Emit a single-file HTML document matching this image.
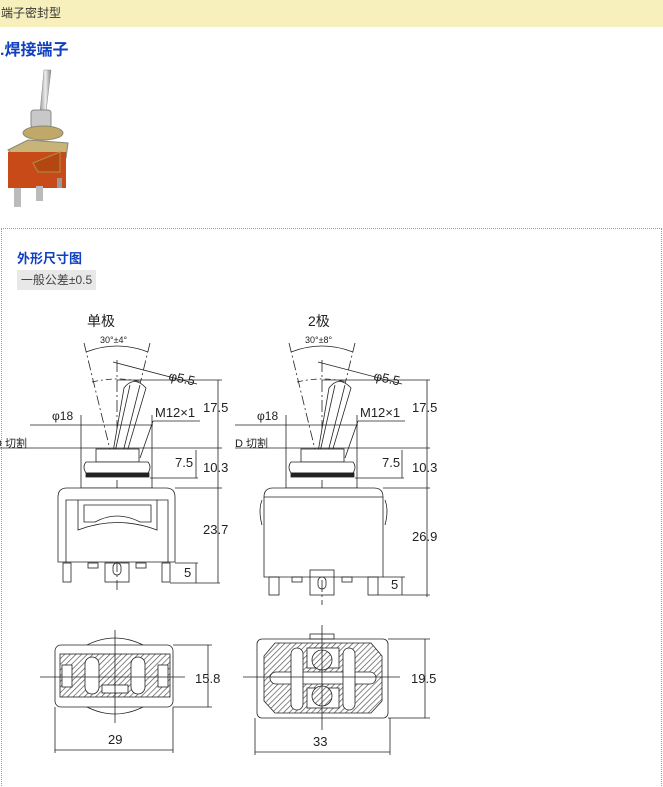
<!DOCTYPE html>
<html><head><meta charset="utf-8"><style>
html,body{margin:0;padding:0;background:#fff;width:663px;height:787px;overflow:hidden}
body{position:relative;font-family:"Liberation Sans","Noto Sans CJK SC",sans-serif}
.hdr{position:absolute;left:0;top:0;width:663px;height:27px;background:#f8f0bc;font-size:12px;color:#333;line-height:27px;padding-left:1px}
.t1{position:absolute;left:0;top:36px;font-size:16px;font-weight:bold;color:#1040c0}
.box{position:absolute;left:1px;top:228px;width:659px;height:570px;border:1px dotted #999}
.t2{position:absolute;left:17px;top:248px;font-size:13px;font-weight:bold;color:#1040c0}
.tol{position:absolute;left:17px;top:270px;width:79px;height:20px;background:#e8e8e8;font-size:12px;color:#444;line-height:20px;text-align:center}
svg{position:absolute;left:0;top:0}
</style></head><body>
<div class="hdr">端子密封型</div>
<div class="t1">.焊接端子</div>
<div class="box"></div>
<div class="t2">外形尺寸图</div>
<div class="tol">一般公差±0.5</div>
<svg width="663" height="787" viewBox="0 0 663 787" font-family="Liberation Sans, Noto Sans CJK SC, sans-serif">
<defs>
<pattern id="h" width="4" height="4" patternUnits="userSpaceOnUse" patternTransform="rotate(45)"><rect width="4" height="4" fill="#fff"/><line x1="0" y1="0" x2="0" y2="4" stroke="#555" stroke-width="1.4"/></pattern>
<linearGradient id="lv" x1="0" x2="1"><stop offset="0" stop-color="#999"/><stop offset=".5" stop-color="#eee"/><stop offset="1" stop-color="#888"/></linearGradient>
</defs>
<!-- photo -->
<g>
<polygon points="44,70 51,70 46,112 40,112" fill="url(#lv)" stroke="#888" stroke-width=".5"/>
<rect x="31" y="110" width="20" height="18" rx="3" fill="#c8c8c8" stroke="#888"/>
<ellipse cx="43" cy="133" rx="20" ry="7" fill="#c0a868" stroke="#887"/>
<polygon points="8,150 28,140 68,143 66,158 18,160" fill="#c8b478" stroke="#887"/>
<rect x="8" y="152" width="58" height="36" fill="#c84a18"/>
<polygon points="33,163 60,152 60,172 38,172" fill="#b44612" stroke="#a89050"/>
<rect x="14" y="188" width="7" height="19" fill="#bbb"/><rect x="36" y="186" width="7" height="15" fill="#bbb"/><rect x="57" y="178" width="5" height="10" fill="#999"/>
</g>
<g fill="none" stroke="#222" stroke-width=".8">
<!-- LEFT top view -->
<line x1="117" y1="360" x2="117" y2="590" stroke-dasharray="12,3,2,3"/>
<line x1="84" y1="343" x2="117" y2="478" stroke-dasharray="10,3,2,3"/>
<line x1="150" y1="343" x2="117" y2="478" stroke-dasharray="10,3,2,3"/>
<path d="M86,352 Q117,340 148,352"/>
<path d="M92,382 Q117,376 142,382" stroke-dasharray="6,3,2,3"/>
<line x1="113" y1="362" x2="197" y2="384"/>
<path d="M124,388 Q134,375 146,388 L127,452 L113,452 Z" fill="#fff"/>
<line x1="130" y1="385" x2="115" y2="452"/><line x1="140" y1="385" x2="123" y2="452"/>
<line x1="117" y1="380" x2="222" y2="380"/>
<line x1="30" y1="425" x2="153" y2="425"/>
<line x1="81" y1="415" x2="81" y2="488"/><line x1="152" y1="415" x2="152" y2="488"/>
<line x1="153" y1="421" x2="200" y2="421"/><line x1="153" y1="421" x2="140" y2="458"/>
<line x1="0" y1="448" x2="222" y2="448"/>
<rect x="96" y="449" width="43" height="13" fill="#fff"/>
<path d="M86,462 H148 Q152,467 148,473 H86 Q82,467 86,462 Z" fill="#fff"/>
<rect x="86" y="473" width="63" height="4" fill="#222"/>
<line x1="82" y1="488" x2="153" y2="488"/>
<line x1="150" y1="478" x2="198" y2="478"/><line x1="196" y1="450" x2="196" y2="478"/>
<line x1="175" y1="488" x2="222" y2="488"/>
<line x1="218" y1="380" x2="218" y2="583"/>
<path d="M58,562 V497 Q58,488 67,488 H166 Q175,488 175,497 V562 Z" fill="#fff"/>
<path d="M66,562 V500 H168 V562"/>
<path d="M78,500 V530 Q117,515 157,530 V500"/>
<path d="M84,505 H151 V522 L140,522 Q117,510 95,522 L84,522 Z"/>
<rect x="63" y="563" width="8" height="19"/><rect x="162" y="563" width="8" height="19"/>
<rect x="105" y="563" width="24" height="19"/><rect x="113" y="563" width="8" height="12" rx="4"/>
<rect x="88" y="563" width="10" height="5"/><rect x="136" y="563" width="10" height="5"/>
<line x1="170" y1="583" x2="220" y2="583"/><line x1="196" y1="563" x2="196" y2="583"/><line x1="175" y1="563" x2="198" y2="563"/>
<!-- RIGHT top view -->
<line x1="322" y1="360" x2="322" y2="605" stroke-dasharray="12,3,2,3"/>
<line x1="289" y1="343" x2="322" y2="478" stroke-dasharray="10,3,2,3"/>
<line x1="355" y1="343" x2="322" y2="478" stroke-dasharray="10,3,2,3"/>
<path d="M291,352 Q322,340 353,352"/>
<path d="M297,382 Q322,376 347,382" stroke-dasharray="6,3,2,3"/>
<line x1="318" y1="362" x2="402" y2="384"/>
<path d="M329,388 Q339,375 351,388 L332,452 L318,452 Z" fill="#fff"/>
<line x1="335" y1="385" x2="320" y2="452"/><line x1="345" y1="385" x2="328" y2="452"/>
<line x1="322" y1="380" x2="430" y2="380"/>
<line x1="235" y1="425" x2="358" y2="425"/>
<line x1="286" y1="415" x2="286" y2="488"/><line x1="357" y1="415" x2="357" y2="488"/>
<line x1="358" y1="421" x2="405" y2="421"/><line x1="358" y1="421" x2="345" y2="458"/>
<line x1="235" y1="448" x2="430" y2="448"/>
<rect x="301" y="449" width="43" height="13" fill="#fff"/>
<path d="M291,462 H353 Q357,467 353,473 H291 Q287,467 291,462 Z" fill="#fff"/>
<rect x="291" y="473" width="63" height="4" fill="#222"/>
<line x1="287" y1="488" x2="358" y2="488"/>
<line x1="355" y1="478" x2="404" y2="478"/><line x1="402" y1="450" x2="402" y2="478"/>
<line x1="383" y1="488" x2="430" y2="488"/>
<line x1="427" y1="380" x2="427" y2="597"/>
<path d="M264,577 V497 Q264,488 273,488 H374 Q383,488 383,497 V577 Z" fill="#fff"/>
<line x1="264" y1="497" x2="383" y2="497"/>
<path d="M262,500 Q258,510 262,525"/><path d="M385,500 Q389,510 385,525"/>
<rect x="269" y="577" width="10" height="18"/><rect x="368" y="577" width="10" height="18"/>
<rect x="310" y="570" width="24" height="25"/><rect x="318" y="577" width="8" height="12" rx="4"/>
<rect x="292" y="577" width="10" height="5"/><rect x="342" y="577" width="10" height="5"/>
<line x1="378" y1="595" x2="430" y2="595"/><line x1="402" y1="577" x2="402" y2="595"/><line x1="383" y1="577" x2="405" y2="577"/>
<!-- LEFT bottom view -->
<path d="M85,646 Q115,630 145,646" fill="#fff"/><path d="M85,706 Q115,722 145,706" fill="#fff"/>
<rect x="55" y="645" width="118" height="62" rx="6" fill="#fff"/>
<rect x="60" y="654" width="110" height="43" fill="url(#h)"/>
<rect x="85" y="657" width="14" height="37" rx="7" fill="#fff"/>
<rect x="131" y="657" width="14" height="37" rx="7" fill="#fff"/>
<rect x="102" y="685" width="26" height="8" fill="#fff"/>
<rect x="62" y="665" width="10" height="22" fill="#fff"/><rect x="158" y="665" width="10" height="22" fill="#fff"/>
<line x1="40" y1="677" x2="185" y2="677"/><line x1="115" y1="630" x2="115" y2="723"/>
<line x1="173" y1="645" x2="212" y2="645"/><line x1="173" y1="707" x2="212" y2="707"/><line x1="208" y1="645" x2="208" y2="707"/>
<line x1="55" y1="707" x2="55" y2="753"/><line x1="173" y1="707" x2="173" y2="753"/><line x1="55" y1="750" x2="173" y2="750"/>
<!-- RIGHT bottom view -->
<rect x="257" y="639" width="131" height="79" rx="5" fill="#fff"/>
<rect x="310" y="634" width="24" height="5"/>
<polygon points="275,643 371,643 382,656 382,701 371,713 275,713 264,701 264,656" fill="url(#h)"/>
<rect x="270" y="672" width="106" height="12" rx="6" fill="#fff"/>
<rect x="291" y="648" width="12" height="62" rx="6" fill="#fff"/>
<rect x="343" y="648" width="12" height="62" rx="6" fill="#fff"/>
<rect x="307" y="648" width="32" height="20" fill="#fff"/><rect x="307" y="688" width="32" height="20" fill="#fff"/>
<circle cx="322" cy="660" r="10" fill="url(#h)"/><circle cx="322" cy="696" r="10" fill="url(#h)"/>
<line x1="243" y1="677" x2="400" y2="677"/><line x1="322" y1="625" x2="322" y2="730"/>
<line x1="388" y1="639" x2="430" y2="639"/><line x1="388" y1="718" x2="430" y2="718"/><line x1="425" y1="639" x2="425" y2="718"/>
<line x1="255" y1="718" x2="255" y2="755"/><line x1="390" y1="718" x2="390" y2="755"/><line x1="255" y1="752" x2="390" y2="752"/>
</g>
<g font-size="14" fill="#222">
<text x="87" y="326">单极</text><text x="308" y="326">2极</text>
<text x="100" y="343" font-size="9">30°±4°</text><text x="305" y="343" font-size="9">30°±8°</text>
<text x="168" y="380" font-size="13" transform="rotate(12 168 380)">φ5.5</text>
<text x="373" y="380" font-size="13" transform="rotate(12 373 380)">φ5.5</text>
<text x="52" y="420" font-size="12">φ18</text><text x="257" y="420" font-size="12">φ18</text>
<text x="155" y="417" font-size="13">M12×1</text><text x="360" y="417" font-size="13">M12×1</text>
<text x="203" y="412" font-size="13">17.5</text><text x="412" y="412" font-size="13">17.5</text>
<text x="-6" y="447" font-size="11">D 切割</text><text x="235" y="447" font-size="11">D 切割</text>
<text x="175" y="467" font-size="13">7.5</text><text x="382" y="467" font-size="13">7.5</text>
<text x="203" y="472" font-size="13">10.3</text><text x="412" y="472" font-size="13">10.3</text>
<text x="203" y="534" font-size="13">23.7</text><text x="412" y="541" font-size="13">26.9</text>
<text x="184" y="577" font-size="13">5</text><text x="391" y="589" font-size="13">5</text>
<text x="195" y="683" font-size="13">15.8</text><text x="411" y="683" font-size="13">19.5</text>
<text x="108" y="744" font-size="13">29</text><text x="313" y="746" font-size="13">33</text>
</g>
</svg>
</body></html>
